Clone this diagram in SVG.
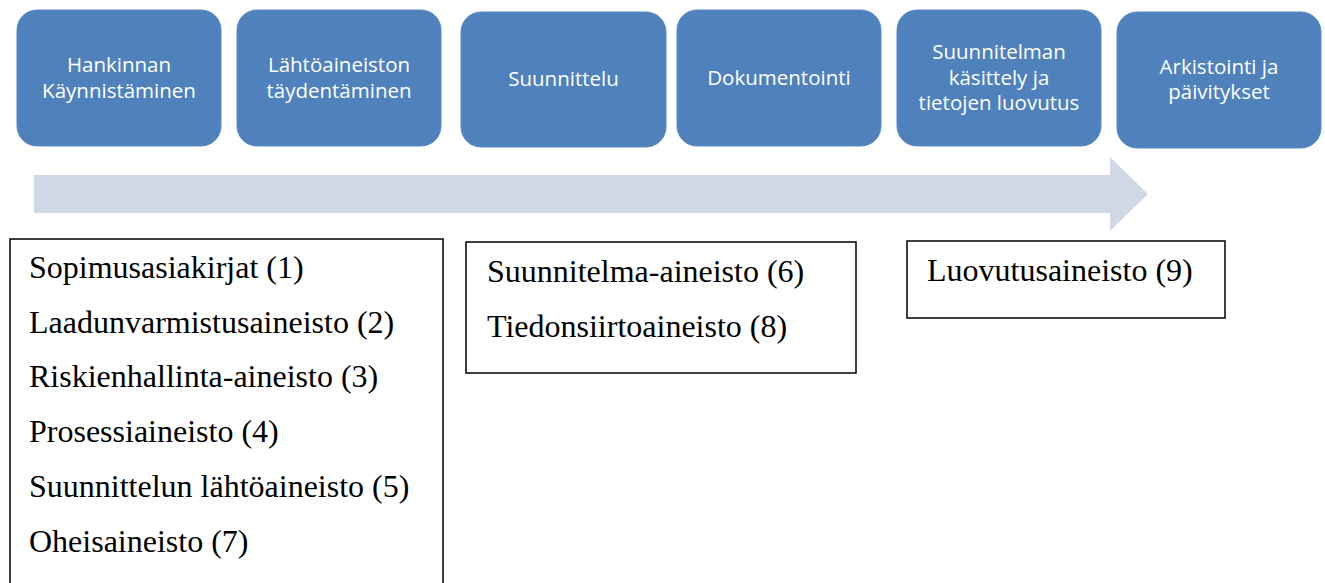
<svg xmlns="http://www.w3.org/2000/svg" width="1325" height="583" viewBox="0 0 1325 583">
<style>
.step rect{fill:#4F81BD;stroke:#5A8AC4;stroke-width:1}
.step text{font-family:"Open Sans","Noto Sans",sans-serif;font-size:20.5px;fill:#FFFFFF;text-anchor:middle}
.doc rect{fill:#FFFFFF;stroke:#000000;stroke-width:1.5}
.doc text{font-family:"Liberation Serif","Times New Roman",serif;font-size:32px;fill:#000000}
</style>
<rect width="1325" height="583" fill="#FFFFFF"/>
<g id="connectors">
<polygon points="34,175 1110,175 1110,157 1148,194 1110,231 1110,213 34,213" fill="#D0D8E8"/>
</g>
<g id="step1" class="step"><rect x="17" y="10" width="204" height="136" rx="20"/><text x="119" y="72">Hankinnan</text><text x="119" y="98">Käynnistäminen</text></g>
<g id="step2" class="step"><rect x="237" y="10" width="204" height="136" rx="20"/><text x="339" y="72">Lähtöaineiston</text><text x="339" y="98">täydentäminen</text></g>
<g id="step3" class="step"><rect x="461" y="12" width="205" height="135" rx="20"/><text x="563.5" y="86">Suunnittelu</text></g>
<g id="step4" class="step"><rect x="677" y="10" width="204" height="136" rx="20"/><text x="779" y="85">Dokumentointi</text></g>
<g id="step5" class="step"><rect x="897" y="10" width="204" height="136" rx="20"/><text x="999" y="59">Suunnitelman</text><text x="999" y="85">käsittely ja</text><text x="999" y="110">tietojen luovutus</text></g>
<g id="step6" class="step"><rect x="1117" y="12" width="204" height="136" rx="20"/><text x="1219" y="74">Arkistointi ja</text><text x="1219" y="99">päivitykset</text></g>
<g id="docsA" class="doc"><rect x="10" y="239" width="433" height="360"/>
<text x="29" y="278">Sopimusasiakirjat (1)</text>
<text x="29" y="332.5">Laadunvarmistusaineisto (2)</text>
<text x="29" y="387">Riskienhallinta-aineisto (3)</text>
<text x="29" y="442">Prosessiaineisto (4)</text>
<text x="29" y="497">Suunnittelun lähtöaineisto (5)</text>
<text x="29" y="552">Oheisaineisto (7)</text>
</g>
<g id="docsB" class="doc"><rect x="466" y="242" width="390" height="131"/>
<text x="487" y="282">Suunnitelma-aineisto (6)</text>
<text x="487" y="337">Tiedonsiirtoaineisto (8)</text>
</g>
<g id="docsC" class="doc"><rect x="907" y="241" width="318" height="77"/>
<text x="927" y="281">Luovutusaineisto (9)</text>
</g>
</svg>
